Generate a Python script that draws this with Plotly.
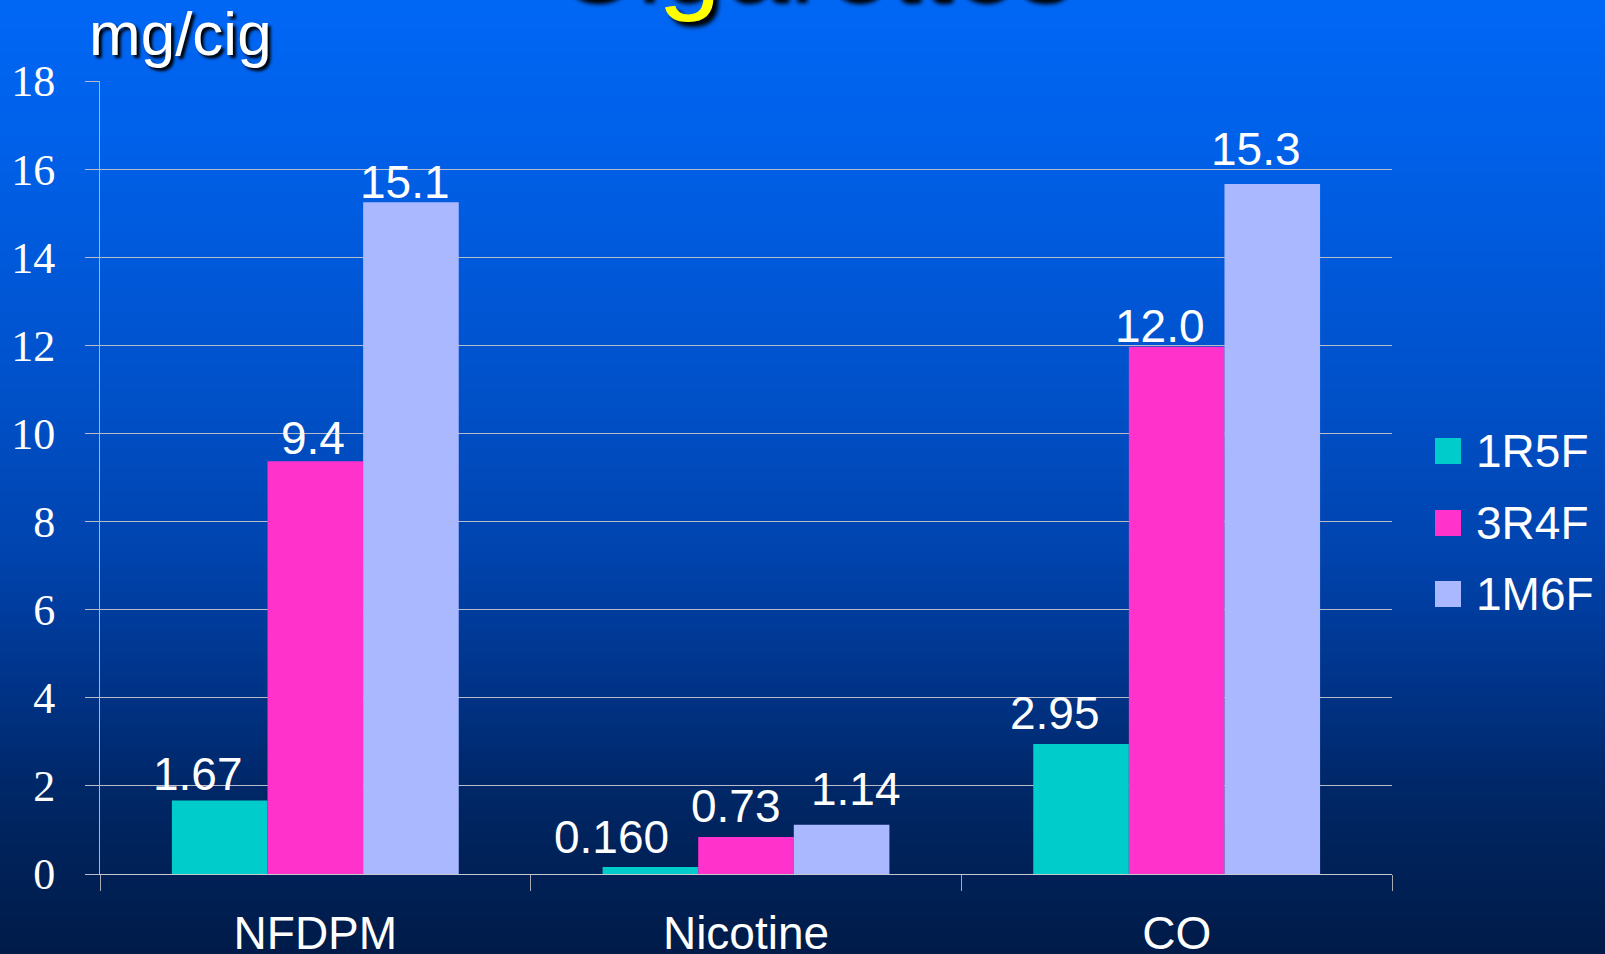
import plotly.graph_objects as go

# ---------------- data ----------------
categories = ["NFDPM", "Nicotine", "CO"]
series_names = ["1R5F", "3R4F", "1M6F"]
values_1R5F = [1.67, 0.16, 2.95]
values_3R4F = [9.37, 0.84, 11.97]
values_1M6F = [15.25, 1.12, 15.66]
labels_1R5F = ["1.67", "0.160", "2.95"]
labels_3R4F = ["9.4", "0.73", "12.0"]
labels_1M6F = ["15.1", "1.14", "15.3"]
y_tick_values = [0, 2, 4, 6, 8, 10, 12, 14, 16, 18]
y_title = "mg/cig"
chart_title = "Cigarettes"

# ---------------- styles ----------------
colors = ["#00CCCC", "#FF33CC", "#AAB8FF"]
W, H = 1605, 954
L, R, T, B = 100, 213, 81, 80
PW, PH = W - L - R, H - T - B
SANS = "Liberation Sans, Arial, sans-serif"
SERIF = "Liberation Serif, Times New Roman, serif"


def px2x(px):
    return (px - L) / PW


def px2y(py):
    return (H - B - py) / PH


# label fine positioning (pixels) relative to bar center / bar top
bar_px = PW / 3 * (1 - 0.334) / 3
series_offsets = [-bar_px, 0, bar_px]
label_dx = [[-22, -39, -26], [-2, -10, -17], [-6, 14, -16]]
label_dy = [[26, 30, 31], [23, 31, 21], [20, 36, 35]]

all_values = [values_1R5F, values_3R4F, values_1M6F]
all_labels = [labels_1R5F, labels_3R4F, labels_1M6F]

fig = go.Figure()
for name, vals, col in zip(series_names, all_values, colors):
    fig.add_trace(go.Bar(
        x=categories, y=vals, name=name,
        marker=dict(color=col, line=dict(width=0)),
        showlegend=False, hoverinfo="x+y+name",
    ))

# ---------- background gradient ----------
stops = [(0, (0, 103, 245)), (150, (0, 96, 232)), (400, (0, 80, 200)),
         (550, (0, 68, 175)), (680, (0, 52, 138)), (800, (0, 38, 100)),
         (954, (0, 27, 72))]


def grad(py):
    for (a, ca), (b, cb) in zip(stops[:-1], stops[1:]):
        if a <= py <= b:
            t = (py - a) / (b - a)
            return "rgb(%d,%d,%d)" % tuple(round(ca[i] + (cb[i] - ca[i]) * t) for i in range(3))
    return "rgb(%d,%d,%d)" % stops[-1][1]


shapes = []
step = 6
for py in range(0, H, step):
    shapes.append(dict(
        type="rect", xref="paper", yref="paper", layer="below",
        x0=px2x(-5), x1=px2x(W + 5), y0=px2y(py + step + 0.5), y1=px2y(py - 0.5),
        fillcolor=grad(py + step / 2), line=dict(width=0),
    ))

# ---------- custom legend ----------
annotations = []
legend_y = [451, 523, 594]
for name, col, cy in zip(series_names, colors, legend_y):
    shapes.append(dict(
        type="rect", xref="paper", yref="paper",
        x0=px2x(1435), x1=px2x(1461), y0=px2y(cy + 13), y1=px2y(cy - 13),
        fillcolor=col, line=dict(width=0),
    ))
    annotations.append(dict(
        text=name, xref="paper", yref="paper", x=px2x(1474), y=px2y(cy),
        xanchor="left", yanchor="middle", showarrow=False,
        font=dict(family=SANS, size=46, color="white"),
    ))

# ---------- value labels ----------
for si, (vals, labs) in enumerate(zip(all_values, all_labels)):
    for ci, (cat, v, lab) in enumerate(zip(categories, vals, labs)):
        annotations.append(dict(
            text=lab, x=cat, y=v, xref="x", yref="y",
            xanchor="center", yanchor="middle", showarrow=False,
            xshift=series_offsets[si] + label_dx[si][ci], yshift=label_dy[si][ci],
            font=dict(family=SANS, size=46, color="white"),
        ))

# ---------- unit label & title ----------
annotations.append(dict(
    text=y_title, xref="paper", yref="paper", x=px2x(87), y=px2y(33),
    xanchor="left", yanchor="middle", showarrow=False,
    font=dict(family=SANS, size=62, color="white", shadow="3px 3px 3px #000000"),
))
annotations.append(dict(
    text=chart_title, xref="paper", yref="paper", x=px2x(810), y=px2y(-42),
    xanchor="center", yanchor="middle", showarrow=False,
    font=dict(family=SANS, size=114, color="#FFFF00", shadow="5px 5px 4px #000000"),
))

fig.update_layout(
    width=W, height=H,
    margin=dict(l=L, r=R, t=T, b=B, pad=0, autoexpand=False),
    paper_bgcolor="rgb(0,27,72)", plot_bgcolor="rgba(0,0,0,0)",
    barmode="group", bargap=0.334, bargroupgap=0,
    shapes=shapes, annotations=annotations,
    showlegend=False,
    xaxis=dict(
        type="category", showline=True, linecolor="#C8C8D0", linewidth=1,
        ticks="outside", tickson="boundaries", ticklen=16, tickcolor="#A8A8B0",
        showgrid=False, zeroline=False, automargin=False,
        tickfont=dict(family=SANS, size=46, color="white"),
        ticklabelstandoff=19,
    ),
    yaxis=dict(
        range=[0, 18], tickvals=y_tick_values, showgrid=True,
        gridcolor="#B8BCC8", gridwidth=1,
        showline=True, linecolor="#B4B4B8", linewidth=1,
        ticks="outside", ticklen=14, tickcolor="#B8BCC8",
        zeroline=False, automargin=False,
        tickfont=dict(family=SERIF, size=44, color="white"),
        ticklabelstandoff=21,
    ),
)

fig.write_html(
    "out.html",
    config={"displayModeBar": False},
    post_script="document.body.style.margin='0';document.body.style.overflow='hidden';",
)
